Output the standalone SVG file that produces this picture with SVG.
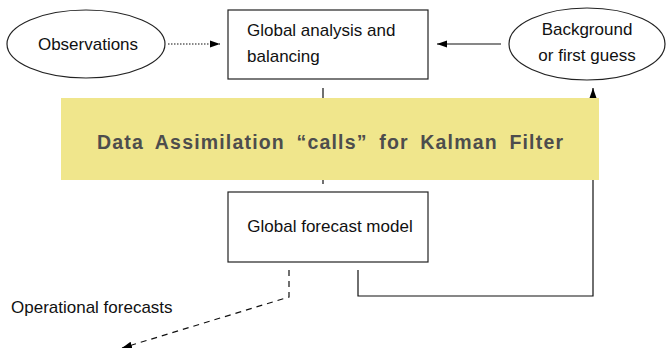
<svg xmlns="http://www.w3.org/2000/svg" width="667" height="348" viewBox="0 0 667 348">
<style>
.lbl{font-family:"Liberation Sans",Arial,sans-serif;font-size:17px;fill:#111}
.shape{fill:#fff;stroke:#222;stroke-width:1.2}
.conn{fill:none;stroke:#111;stroke-width:1.2}
</style>
<defs>
<marker id="ah" viewBox="0 0 10 10" refX="10" refY="5" markerWidth="10" markerHeight="10" markerUnits="userSpaceOnUse" orient="auto">
<path d="M0,1.5 L10,5 L0,8.5 z" fill="#000"/>
</marker>
</defs>
<rect width="667" height="348" fill="#fff"/>
<g id="connectors">
<line class="conn" x1="168" y1="44" x2="220" y2="44" stroke-dasharray="1.5,1.5" marker-end="url(#ah)"/>
<line class="conn" x1="501" y1="44" x2="437" y2="44" marker-end="url(#ah)"/>
<line class="conn" x1="323" y1="88" x2="323" y2="184"/>
<polyline class="conn" points="358,270 358,296 593,296 593,88" marker-end="url(#ah)"/>
<polyline class="conn" points="289,270 289,297 122,348" stroke-dasharray="6,5" marker-end="url(#ah)"/>
</g>
<g id="observations">
<ellipse class="shape" cx="86" cy="44" rx="79" ry="34"/>
<text class="lbl" x="88" y="50" text-anchor="middle">Observations</text>
</g>
<g id="analysis">
<rect class="shape" x="228" y="10" width="200" height="69"/>
<text class="lbl" x="247" y="36">Global analysis and</text>
<text class="lbl" x="247" y="62">balancing</text>
</g>
<g id="background">
<ellipse class="shape" cx="587" cy="44" rx="78" ry="36"/>
<text class="lbl" x="587" y="35" text-anchor="middle">Background</text>
<text class="lbl" x="587" y="61" text-anchor="middle">or first guess</text>
</g>
<g id="title-band">
<rect x="61" y="98" width="538" height="82" fill="#F0E68C"/>
<text x="330" y="149" text-anchor="middle" textLength="466" lengthAdjust="spacing" font-family="'Liberation Sans',Arial,sans-serif" font-size="19.5" font-weight="bold" word-spacing="5" fill="#4d4d4d">Data Assimilation “calls” for Kalman Filter</text>
</g>
<g id="forecast">
<rect class="shape" x="228" y="192" width="200" height="70"/>
<text class="lbl" x="330" y="232" text-anchor="middle">Global forecast model</text>
</g>
<g id="operational">
<text class="lbl" x="11" y="313">Operational forecasts</text>
</g>
</svg>
